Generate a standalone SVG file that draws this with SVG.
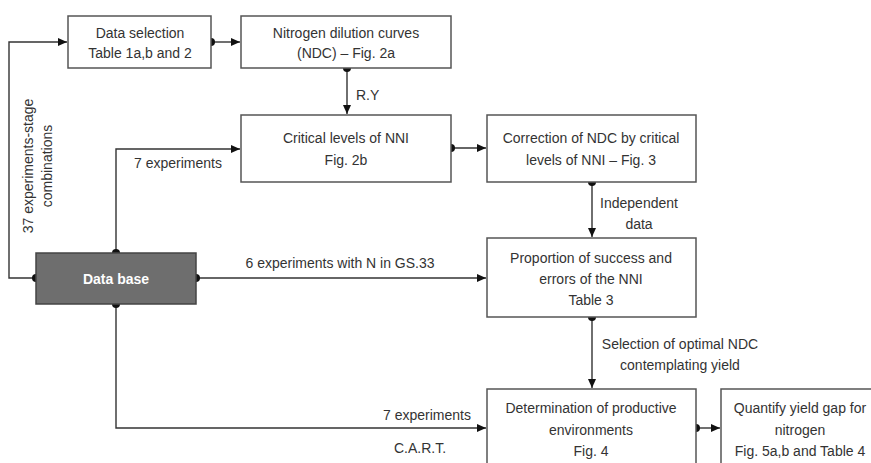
<svg xmlns="http://www.w3.org/2000/svg" width="871" height="463" viewBox="0 0 871 463">
<style>
.box{fill:#fff;stroke:#555;stroke-width:1.5}
.db{fill:#6e6e6e;stroke:#444;stroke-width:1.5}
text{font-family:"Liberation Sans",Arial,sans-serif;font-size:14px;fill:#333}
.c{text-anchor:middle}
.w{fill:#fff;font-weight:bold}
.ln{fill:none;stroke:#333;stroke-width:1.4}
.dot{fill:#111}
</style>
<defs>
<marker id="ah" markerWidth="9" markerHeight="8" refX="9" refY="4" orient="auto" markerUnits="userSpaceOnUse">
<path d="M0,0 L9,4 L0,8 z" fill="#111"/>
</marker>
</defs>
<rect width="871" height="463" fill="#fff"/>

<g id="connectors">
<path class="ln" d="M36,278 H9 V42 H67" marker-end="url(#ah)"/>
<path class="ln" d="M211,42 H240" marker-end="url(#ah)"/>
<path class="ln" d="M347,68 V114" marker-end="url(#ah)"/>
<path class="ln" d="M116,253 V149 H240" marker-end="url(#ah)"/>
<path class="ln" d="M451,148 H486" marker-end="url(#ah)"/>
<path class="ln" d="M592,182 V237" marker-end="url(#ah)"/>
<path class="ln" d="M196,278 H486" marker-end="url(#ah)"/>
<path class="ln" d="M592,317 V388" marker-end="url(#ah)"/>
<path class="ln" d="M116,304 V428 H486" marker-end="url(#ah)"/>
<path class="ln" d="M696,428 H720" marker-end="url(#ah)"/>
<circle class="dot" cx="211" cy="42" r="4"/>
<circle class="dot" cx="347" cy="68" r="4"/>
<circle class="dot" cx="451" cy="148" r="4"/>
<circle class="dot" cx="592" cy="182" r="4"/>
<circle class="dot" cx="592" cy="317" r="4"/>
<circle class="dot" cx="696" cy="428" r="4"/>
<circle class="dot" cx="36" cy="278" r="4"/>
<circle class="dot" cx="116" cy="253" r="4"/>
<circle class="dot" cx="196" cy="278" r="4"/>
<circle class="dot" cx="116" cy="304" r="4"/>
<text x="356" y="100">R.Y</text>
<text class="c" x="178" y="168">7 experiments</text>
<text class="c" x="639" y="208">Independent</text>
<text class="c" x="639" y="229">data</text>
<text class="c" x="340" y="268">6 experiments with N in GS.33</text>
<text class="c" x="680" y="349">Selection of optimal NDC</text>
<text class="c" x="680" y="370">contemplating yield</text>
<text class="c" x="427" y="420">7 experiments</text>
<text class="c" x="420" y="453">C.A.R.T.</text>
<text class="c" x="33" y="166" transform="rotate(-90 33 166)">37 experiments-stage</text>
<text class="c" x="52" y="166" transform="rotate(-90 52 166)">combinations</text>
</g>

<g id="data-selection">
<rect class="box" x="68" y="16" width="143" height="52"/>
<text class="c" x="140" y="38">Data selection</text>
<text class="c" x="140" y="58">Table 1a,b and 2</text>
</g>
<g id="ndc">
<rect class="box" x="241" y="16" width="210" height="52"/>
<text class="c" x="346" y="38">Nitrogen dilution curves</text>
<text class="c" x="346" y="58">(NDC) – Fig. 2a</text>
</g>
<g id="critical-levels">
<rect class="box" x="241" y="115" width="210" height="67"/>
<text class="c" x="346" y="143">Critical levels of NNI</text>
<text class="c" x="346" y="165">Fig. 2b</text>
</g>
<g id="correction">
<rect class="box" x="487" y="115" width="209" height="67"/>
<text class="c" x="591" y="143">Correction of NDC by critical</text>
<text class="c" x="591" y="165">levels of NNI – Fig. 3</text>
</g>
<g id="data-base">
<rect class="db" x="36" y="253" width="160" height="51"/>
<text class="c w" x="116" y="284">Data base</text>
</g>
<g id="proportion">
<rect class="box" x="487" y="238" width="209" height="79"/>
<text class="c" x="591" y="263">Proportion of success and</text>
<text class="c" x="591" y="284">errors of the NNI</text>
<text class="c" x="591" y="305">Table 3</text>
</g>
<g id="determination">
<rect class="box" x="487" y="389" width="209" height="90"/>
<text class="c" x="591" y="413">Determination of productive</text>
<text class="c" x="591" y="435">environments</text>
<text class="c" x="591" y="456">Fig. 4</text>
</g>
<g id="quantify">
<rect class="box" x="721" y="389" width="160" height="90"/>
<text class="c" x="800" y="413">Quantify yield gap for</text>
<text class="c" x="800" y="435">nitrogen</text>
<text class="c" x="800" y="456">Fig. 5a,b and Table 4</text>
</g>
</svg>
